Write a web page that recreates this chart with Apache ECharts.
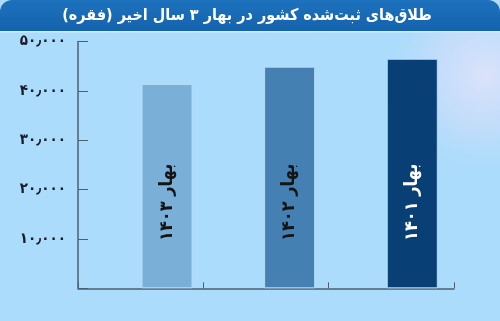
<!DOCTYPE html>
<html>
<head>
<meta charset="utf-8">
<script src="https://cdn.jsdelivr.net/npm/echarts@6/dist/echarts.min.js"></script>
<style>
  html, body { margin: 0; padding: 0; }
  #chart { width: 500px; height: 321px; }
</style>
</head>
<body>
<div id="chart"></div>
<script>
const title = 'طلاق‌های ثبت‌شده کشور در بهار ۳ سال اخیر (فقره)';
const categories = ['بهار ۱۴۰۳', 'بهار ۱۴۰۲', 'بهار ۱۴۰۱'];
const values = [41400, 44900, 46500];
const barColors = ['#7aafd8', '#4580b3', '#083f74'];
const labelColors = ['#141414', '#141414', '#ffffff'];
const yTicks = [10000, 20000, 30000, 40000, 50000];
const yTickLabels = ['۱۰٫۰۰۰', '۲۰٫۰۰۰', '۳۰٫۰۰۰', '۴۰٫۰۰۰', '۵۰٫۰۰۰'];

const font = "'DejaVu Sans Condensed', 'DejaVu Sans', sans-serif";
const axisColor = '#4f5f70';

const chart = echarts.init(document.getElementById('chart'));

const option = {
  backgroundColor: '#abdcfb',
  animation: false,
  graphic: [
    {
      type: 'circle',
      z: -10,
      shape: { cx: 485, cy: 75, r: 110 },
      style: {
        fill: new echarts.graphic.RadialGradient(0.5, 0.5, 0.5, [
          { offset: 0, color: 'rgba(228,228,250,0.85)' },
          { offset: 0.5, color: 'rgba(218,222,250,0.45)' },
          { offset: 1, color: 'rgba(171,220,251,0)' }
        ])
      }
    },
    {
      type: 'rect',
      z: 10,
      shape: { x: 0, y: 0, width: 500, height: 31, r: [12, 12, 0, 0] },
      style: {
        fill: new echarts.graphic.LinearGradient(0, 0, 0, 1, [
          { offset: 0, color: '#1d72bd' },
          { offset: 1, color: '#1462ad' }
        ])
      }
    },
    {
      type: 'rect',
      z: 10,
      shape: { x: 0, y: 31, width: 500, height: 1.5 },
      style: { fill: '#d4e9fa' }
    },
    {
      type: 'text',
      z: 11,
      x: 247,
      y: 16,
      style: {
        text: title,
        fill: '#ffffff',
        font: "bold 16px 'DejaVu Sans Condensed', 'DejaVu Sans', sans-serif",
        align: 'center',
        verticalAlign: 'middle'
      }
    }
  ],
  grid: [
    { left: 78, right: 46, top: 41.5, bottom: 32.7 },
    { left: 105.7, right: 26.4, top: 41.5, bottom: 32.7 }
  ],
  xAxis: [
    {
      gridIndex: 0,
      type: 'category',
      data: categories,
      boundaryGap: true,
      axisLine: { lineStyle: { color: axisColor, width: 1.5 } },
      axisTick: { show: true, inside: true, length: 6, lineStyle: { color: axisColor } },
      axisLabel: { show: false },
      splitLine: { show: false }
    },
    {
      gridIndex: 1,
      type: 'category',
      data: categories,
      show: false
    }
  ],
  yAxis: [
    {
      gridIndex: 0,
      type: 'value',
      min: 0,
      max: 50000,
      interval: 10000,
      axisLine: { show: true, lineStyle: { color: axisColor, width: 1.5 } },
      axisTick: { show: true, inside: true, length: 10, lineStyle: { color: axisColor } },
      splitLine: { show: false },
      axisLabel: {
        margin: 12,
        color: '#1a1a28',
        fontSize: 15,
        fontWeight: 'bold',
        fontFamily: font,
        formatter: v => {
          const i = yTicks.indexOf(v);
          return i >= 0 ? yTickLabels[i] : '';
        }
      }
    },
    {
      gridIndex: 1,
      type: 'value',
      min: 0,
      max: 50000,
      show: false
    }
  ],
  series: [
    {
      type: 'bar',
      xAxisIndex: 1,
      yAxisIndex: 1,
      barWidth: 51,
      data: values.map((v, i) => ({
        value: v,
        itemStyle: {
          color: barColors[i],
          borderColor: 'rgba(190,222,246,0.9)',
          borderWidth: 1
        },
        label: { color: labelColors[i] }
      })),
      label: {
        show: true,
        position: 'insideBottom',
        distance: 86,
        rotate: 90,
        align: 'center',
        verticalAlign: 'middle',
        formatter: '{b}',
        fontSize: 18,
        fontWeight: 'bold',
        fontFamily: font
      }
    }
  ]
};

chart.setOption(option);
</script>
</body>
</html>
